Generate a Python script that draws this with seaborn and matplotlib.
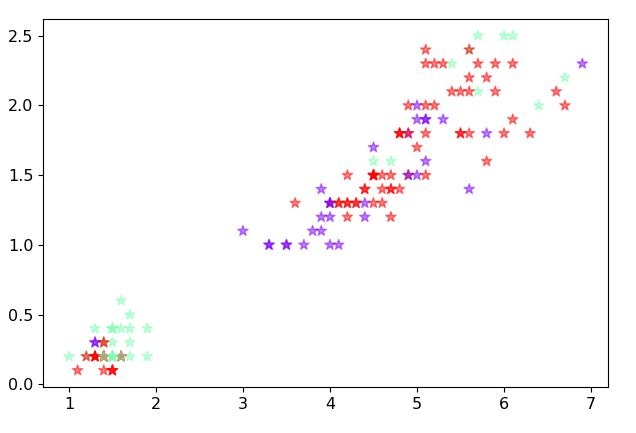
import numpy as np
import pandas as pd
import matplotlib
matplotlib.use("Agg")
import matplotlib.pyplot as plt
import seaborn as sns

# petal length / petal width, in drawing order
petal_length = [
    1.4, 1.4, 1.3, 1.5, 1.4, 1.7, 1.4, 1.5, 1.4, 1.5,
    1.5, 1.6, 1.4, 1.1, 1.2, 1.5, 1.3, 1.4, 1.7, 1.5,
    1.7, 1.5, 1.0, 1.7, 1.9, 1.6, 1.6, 1.5, 1.4, 1.6,
    1.6, 1.5, 1.5, 1.4, 1.5, 1.2, 1.3, 1.5, 1.3, 1.5,
    1.3, 1.3, 1.3, 1.6, 1.9, 1.4, 1.6, 1.4, 1.5, 1.4,
    4.7, 4.5, 4.9, 4.0, 4.6, 4.5, 4.7, 3.3, 4.6, 3.9,
    3.5, 4.2, 4.0, 4.7, 3.6, 4.4, 4.5, 4.1, 4.5, 3.9,
    4.8, 4.0, 4.9, 4.7, 4.3, 4.4, 4.8, 5.0, 4.5, 3.5,
    3.8, 3.7, 3.9, 5.1, 4.5, 4.5, 4.7, 4.4, 4.1, 4.0,
    4.4, 4.6, 4.0, 3.3, 4.2, 4.2, 4.2, 4.3, 3.0, 4.1,
    6.0, 5.1, 5.9, 5.6, 5.8, 6.6, 4.5, 6.3, 5.8, 6.1,
    5.1, 5.3, 5.5, 5.0, 5.1, 5.3, 5.5, 6.7, 6.9, 5.0,
    5.7, 4.9, 6.7, 4.9, 5.7, 6.0, 4.8, 4.9, 5.6, 5.8,
    6.1, 6.4, 5.6, 5.1, 5.6, 6.1, 5.6, 5.5, 4.8, 5.4,
    5.6, 5.1, 5.1, 5.9, 5.7, 5.2, 5.0, 5.2, 5.4, 5.1,
]
petal_width = [
    0.2, 0.2, 0.2, 0.2, 0.2, 0.4, 0.3, 0.2, 0.2, 0.1,
    0.2, 0.2, 0.1, 0.1, 0.2, 0.4, 0.4, 0.3, 0.3, 0.3,
    0.2, 0.4, 0.2, 0.5, 0.2, 0.2, 0.4, 0.2, 0.2, 0.2,
    0.2, 0.4, 0.1, 0.2, 0.2, 0.2, 0.2, 0.1, 0.2, 0.2,
    0.3, 0.3, 0.2, 0.6, 0.4, 0.3, 0.2, 0.2, 0.2, 0.2,
    1.4, 1.5, 1.5, 1.3, 1.5, 1.3, 1.6, 1.0, 1.3, 1.4,
    1.0, 1.5, 1.0, 1.4, 1.3, 1.4, 1.5, 1.0, 1.5, 1.1,
    1.8, 1.3, 1.5, 1.2, 1.3, 1.4, 1.4, 1.7, 1.5, 1.0,
    1.1, 1.0, 1.2, 1.6, 1.5, 1.6, 1.5, 1.3, 1.3, 1.3,
    1.2, 1.4, 1.2, 1.0, 1.3, 1.2, 1.3, 1.3, 1.1, 1.3,
    2.5, 1.9, 2.1, 1.8, 2.2, 2.1, 1.7, 1.8, 1.8, 2.5,
    2.0, 1.9, 2.1, 2.0, 2.4, 2.3, 1.8, 2.2, 2.3, 1.5,
    2.3, 2.0, 2.0, 1.8, 2.1, 1.8, 1.8, 1.8, 2.1, 1.6,
    1.9, 2.0, 2.2, 1.5, 1.4, 2.3, 2.4, 1.8, 1.8, 2.1,
    2.4, 2.3, 1.9, 2.3, 2.5, 2.3, 1.9, 2.0, 2.3, 1.8,
]
# colour class of each point: 0 purple, 1 green, 2 red
label = [
    2, 1, 2, 2, 2, 1, 2, 1, 2, 2,
    1, 1, 2, 2, 1, 1, 1, 1, 1, 1,
    1, 1, 1, 1, 1, 1, 1, 1, 2, 2,
    2, 1, 2, 1, 1, 2, 2, 2, 2, 1,
    0, 0, 2, 1, 1, 2, 1, 2, 1, 1,
    2, 2, 2, 2, 2, 2, 1, 0, 2, 0,
    0, 2, 0, 2, 2, 2, 2, 0, 2, 0,
    2, 0, 0, 2, 2, 2, 2, 2, 2, 0,
    0, 0, 0, 0, 2, 1, 2, 0, 2, 0,
    0, 2, 0, 0, 2, 2, 2, 2, 0, 2,
    1, 0, 2, 2, 2, 2, 0, 2, 0, 1,
    2, 0, 2, 0, 2, 2, 2, 1, 0, 0,
    2, 2, 2, 0, 1, 2, 2, 2, 2, 2,
    2, 1, 2, 2, 0, 2, 1, 2, 2, 2,
    2, 2, 0, 2, 1, 2, 0, 2, 1, 2,
]

df = pd.DataFrame({"x": petal_length, "y": petal_width, "c": label})
palette = {k: plt.cm.rainbow(k / 2) for k in (0, 1, 2)}

fig = plt.figure(figsize=(6.36, 4.33), dpi=100)
ax = fig.add_axes([0.068, 0.106, 0.888, 0.85])
sns.scatterplot(data=df, x="x", y="y", hue="c", palette=palette, marker="*",
                s=60, alpha=0.5, edgecolor="face", linewidth=1.0,
                legend=False, ax=ax)
ax.set_xlabel("")
ax.set_ylabel("")
ax.tick_params(labelsize=11.5)
fig.savefig("out.png", dpi=100)
